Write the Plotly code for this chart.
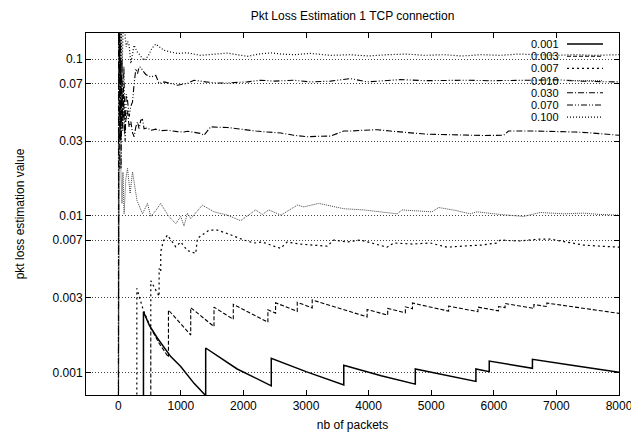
import plotly.graph_objects as go

# ---------------- data ----------------
series_names = ["0.001", "0.003", "0.007", "0.010", "0.030", "0.070", "0.100"]

n_001 = [403, 403, 500, 627, 839, 998, 1211, 1397, 1397, 1900, 2445, 2445, 3000, 3603, 3603,
         4200, 4746, 4746, 5714, 5714, 5927, 5927, 6617, 6617, 7300, 8000]
v_001 = [0.0005, 0.00244, 0.00199, 0.00165, 0.00126, 0.00109, 0.00085, 0.00071, 0.00143, 0.00105,
         0.00082, 0.00123, 0.00101, 0.00083, 0.00111, 0.00095, 0.00084, 0.00105, 0.000875, 0.00105,
         0.00101, 0.00118, 0.00106, 0.00121, 0.0011, 0.001]

n_003 = [520, 520, 650, 802, 802, 1158, 1158, 1530, 1530, 1838, 1838, 2391, 2391, 2514, 2514,
         2860, 2860, 3099, 3099, 3976, 3976, 4305, 4305, 4587, 4587, 4700, 4700, 5278, 5278,
         5746, 5746, 6075, 6075, 6180, 6180, 6640, 6640, 6847, 6847, 8000]
v_003 = [0.0005, 0.00192, 0.00154, 0.00125, 0.0025, 0.00173, 0.00259, 0.00196, 0.00261, 0.00218,
         0.00272, 0.00209, 0.00251, 0.00239, 0.00278, 0.00245, 0.0028, 0.00258, 0.0029, 0.00226,
         0.00252, 0.00232, 0.00256, 0.0024, 0.00262, 0.00255, 0.00277, 0.00246, 0.00265, 0.00244,
         0.00261, 0.00247, 0.00263, 0.00259, 0.00275, 0.00256, 0.00271, 0.00263, 0.00277, 0.00238]

n_007 = [297, 297, 400, 520, 520, 653, 653, 679, 679, 720, 786, 919, 998, 1105, 1238, 1265, 1450,
         1584, 1743, 2008, 2167, 2300, 2486, 2593, 2700, 2900, 3100, 3338, 3443, 3650, 3869, 4100,
         4295, 4400, 4700, 4986, 5252, 5500, 5800, 6049, 6102, 6400, 6740, 6900, 7150, 7431, 7700,
         7936, 8000]
v_007 = [0.0005, 0.00344, 0.0025, 0.00192, 0.00385, 0.00306, 0.0046, 0.0044, 0.0059, 0.0069,
         0.00753, 0.00634, 0.0068, 0.0060, 0.00575, 0.00718, 0.0081, 0.0081, 0.0077, 0.0070,
         0.0067, 0.0068, 0.0064, 0.0062, 0.0068, 0.0066, 0.0065, 0.0064, 0.0070, 0.0068,
         0.0070, 0.0066, 0.0063, 0.0067, 0.0066, 0.0067, 0.0063, 0.0064, 0.0065, 0.0067,
         0.0070, 0.0069, 0.0071, 0.0071, 0.0068, 0.0065, 0.0064, 0.0063, 0.0063]

n_010 = [5, 20, 41, 60, 75, 94, 120, 148, 190, 228, 300, 388, 467, 520, 600, 679, 800, 919, 998,
         1051, 1105, 1158, 1344, 1530, 1743, 1955, 2195, 2301, 2407, 2600, 2860, 2965, 3204, 3603,
         3922, 4200, 4455, 4534, 4800, 5013, 5118, 5400, 5624, 5730, 6100, 6474, 6740, 7112, 7431,
         7700, 8000]
v_010 = [0.0005, 0.025, 0.0206, 0.012, 0.019, 0.0103, 0.017, 0.0201, 0.0139, 0.0191, 0.0125,
         0.0103, 0.0120, 0.0099, 0.0108, 0.0120, 0.0100, 0.0089, 0.0099, 0.0086, 0.0104, 0.0096,
         0.0117, 0.0106, 0.0101, 0.0093, 0.0109, 0.0102, 0.0109, 0.0101, 0.0117, 0.0114, 0.0120,
         0.0111, 0.0109, 0.0106, 0.0103, 0.0109, 0.0107, 0.0106, 0.0113, 0.0108, 0.0103, 0.0106,
         0.0102, 0.0099, 0.0105, 0.0103, 0.0104, 0.0102, 0.0101]

n_030 = [3, 7, 12, 18, 25, 33, 42, 55, 70, 85, 100, 121, 148, 174, 201, 228, 254, 281, 308, 333,
         360, 388, 413, 467, 520, 600, 679, 786, 946, 1051, 1105, 1211, 1317, 1370, 1477, 1600,
         1743, 1900, 2062, 2200, 2381, 2600, 2805, 3019, 3200, 3391, 3603, 3710, 3900, 4136, 4348,
         4600, 4933, 5250, 5571, 5850, 6155, 6234, 6633, 7000, 7300, 7537, 7800, 8000]
v_030 = [0.0005, 0.3, 0.005, 0.15, 0.02, 0.1, 0.03, 0.08, 0.035, 0.06, 0.033, 0.0408, 0.047,
         0.037, 0.040, 0.034, 0.032, 0.037, 0.0398, 0.036, 0.0408, 0.0412, 0.036, 0.0365, 0.0352,
         0.0358, 0.0350, 0.0352, 0.0345, 0.0343, 0.0347, 0.0340, 0.0336, 0.0327, 0.0370, 0.0368,
         0.0367, 0.0360, 0.0352, 0.0348, 0.0343, 0.0338, 0.0327, 0.0320, 0.0322, 0.0323, 0.0348,
         0.0348, 0.0352, 0.0355, 0.0348, 0.0340, 0.0332, 0.0330, 0.0327, 0.0326, 0.0327, 0.0348,
         0.0348, 0.0346, 0.0343, 0.0339, 0.0333, 0.0327]

n_070 = [4, 9, 14, 20, 27, 36, 46, 58, 72, 90, 110, 128, 148, 175, 200, 228, 254, 281, 308, 333,
         360, 388, 440, 520, 600, 652, 732, 850, 946, 1100, 1211, 1400, 1584, 1743, 1900, 2062,
         2274, 2500, 2805, 3072, 3391, 3710, 3976, 4300, 4507, 4900, 5200, 5571, 5900, 6200, 6633,
         7000, 7400, 7904, 8000]
v_070 = [0.0005, 0.25, 0.01, 0.2, 0.03, 0.13, 0.02, 0.1, 0.04, 0.09, 0.03, 0.06, 0.0548, 0.043,
         0.050, 0.0534, 0.070, 0.087, 0.081, 0.0893, 0.089, 0.085, 0.080, 0.077, 0.079, 0.070,
         0.0717, 0.0695, 0.0683, 0.070, 0.0735, 0.0717, 0.0706, 0.0706, 0.0712, 0.0717, 0.0735,
         0.0725, 0.0735, 0.0717, 0.0725, 0.0753, 0.0717, 0.0735, 0.0742, 0.0730, 0.0735, 0.0735,
         0.0730, 0.0735, 0.0735, 0.0740, 0.0725, 0.0717, 0.0717]

n_100 = [2, 6, 10, 15, 21, 28, 37, 48, 60, 75, 94, 110, 128, 150, 174, 201, 228, 254, 300, 360,
         413, 480, 540, 600, 732, 850, 946, 1100, 1317, 1450, 1584, 1743, 1900, 2062, 2250, 2434,
         2600, 2805, 3072, 3400, 3700, 4000, 4300, 4600, 4900, 5200, 5500, 5800, 6100, 6400, 6700,
         7000, 7300, 7600, 8000]
v_100 = [0.0005, 0.5, 0.04, 0.3, 0.06, 0.2, 0.07, 0.18, 0.08, 0.16, 0.3, 0.14, 0.12, 0.13, 0.123,
         0.094, 0.11, 0.123, 0.112, 0.104, 0.0985, 0.105, 0.118, 0.125, 0.114, 0.111, 0.109, 0.110,
         0.106, 0.107, 0.108, 0.1097, 0.107, 0.1045, 0.108, 0.110, 0.108, 0.107, 0.109, 0.106,
         0.107, 0.105, 0.107, 0.108, 0.106, 0.107, 0.105, 0.107, 0.106, 0.108, 0.107, 0.106, 0.107,
         0.106, 0.107]

x_ticks = [0, 1000, 2000, 3000, 4000, 5000, 6000, 7000, 8000]
y_ticks = [0.001, 0.003, 0.007, 0.01, 0.03, 0.07, 0.1]
y_ticklabels = ["0.001", "0.003", "0.007", "0.01", "0.03", "0.07", "0.1"]

# ---------------- styles ----------------
xs_all = [n_001, n_003, n_007, n_010, n_030, n_070, n_100]
ys_all = [v_001, v_003, v_007, v_010, v_030, v_070, v_100]
dashes = ["solid", "4px,2px", "2px,3px", "1px,1px", "6px,2px,1px,2px",
          "6px,2px,1px,2px,1px,2px", "1px,2px"]
widths = [1.5, 1.1, 1.2, 1.0, 1.1, 1.1, 1.2]
colors = ["#000000", "#000000", "#000000", "#444444", "#000000", "#000000", "#000000"]

# page body has an 8px margin, so the figure is drawn 8px right/down
OFF = 8
W, H = 639 - OFF, 432 - OFF
ML, MR, MT, MB = 86 - OFF, 20, 33 - OFF, 37
PW, PH = W - ML - MR, H - MT - MB

fig = go.Figure()
for name, xs, ys, d, w, c in zip(series_names, xs_all, ys_all, dashes, widths, colors):
    fig.add_trace(go.Scatter(x=xs, y=ys, mode="lines", name=name,
                             line=dict(color=c, width=w, dash=d)))

# gnuplot-style key: label text on the left, line sample on the right
shapes = []
annotations = []
for i, (name, d, w, c) in enumerate(zip(series_names, dashes, widths, colors)):
    py = 44 + 12.2 * i          # page pixel row
    yp = 1 - (py - 33) / PH
    annotations.append(dict(text=name, x=(560 - 86) / PW, y=yp, xref="paper", yref="paper",
                            xanchor="right", yanchor="middle", showarrow=False, borderpad=0,
                            font=dict(size=11, color="black")))
    shapes.append(dict(type="line", xref="paper", yref="paper",
                       x0=(567 - 86) / PW, x1=(603 - 86) / PW, y0=yp, y1=yp,
                       line=dict(color=c, width=w, dash=d)))

fig.update_layout(
    width=W, height=H,
    margin=dict(l=ML, r=MR, t=MT, b=MB, autoexpand=False),
    paper_bgcolor="white", plot_bgcolor="white",
    font=dict(family="Liberation Sans, Arial, Helvetica, sans-serif", size=12, color="black"),
    title=dict(text="Pkt Loss Estimation 1 TCP connection", x=0.5, xref="paper",
               y=1 - 8 / H, yref="container", yanchor="middle", xanchor="center",
               font=dict(size=12)),
    showlegend=False,
    shapes=shapes,
    annotations=annotations,
)
fig.update_xaxes(
    range=[-515, 8000], tickvals=x_ticks, ticks="inside", ticklen=5, tickcolor="black",
    showline=True, linecolor="black", linewidth=1, mirror="ticks",
    showgrid=False, zeroline=False, automargin=False,
    title=dict(text="nb of packets", standoff=8, font=dict(size=12)),
)
fig.update_yaxes(
    type="log", range=[-3.145, -0.832], tickvals=y_ticks, ticktext=y_ticklabels,
    ticks="inside", ticklen=5, tickcolor="black",
    showline=True, linecolor="black", linewidth=1, mirror="ticks",
    showgrid=True, gridcolor="#444444", griddash="1px,2px", gridwidth=1, zeroline=False,
    automargin=False,
    title=dict(text="pkt loss estimation value", standoff=25, font=dict(size=12)),
)

fig.write_html("out.html")
